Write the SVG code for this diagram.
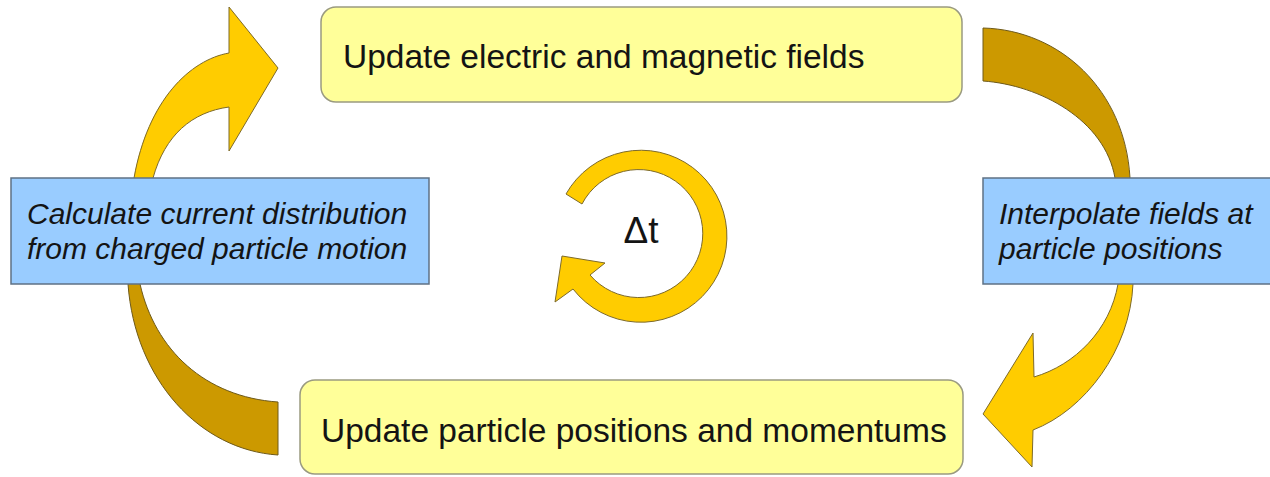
<svg xmlns="http://www.w3.org/2000/svg" width="1270" height="477" viewBox="0 0 1270 477">
<style>
.gold{fill:#ffcc00;stroke:#7d6a2a;stroke-width:1}
.dark{fill:#cc9900;stroke:#6e5a1a;stroke-width:1}
.step{fill:#ffff99;stroke:#9a9a80;stroke-width:1.5}
.op{fill:#99ccff;stroke:#5f7185;stroke-width:1.5}
.t{font-family:"Liberation Sans",Arial,sans-serif;fill:#141414}
.big{font-size:33.5px}
.it{font-size:30px;font-style:italic}
</style>
<rect width="1270" height="477" fill="#ffffff"/>
<g id="connectors">
<path id="arrow-current-to-fields" class="gold" d="M134,178 C148,100 190,60 229,53 L229,7 L278,68 L229,151 L229,107 C192,112 165,135 153,178 L150,230 L134,230 Z"/>
<path id="arrow-fields-to-interp" class="dark" d="M983,28 C1060,30 1125,90 1130,178 L1130,220 L1115,220 L1115,178 C1105,120 1040,85 983,81 Z"/>
<path id="arrow-interp-to-particles" class="gold" d="M1118,284 L1118,240 L1133,240 L1133,284 C1130,350 1085,410 1033,430 L1032,467 L983,414 L1033,333 L1034,377 C1075,365 1110,330 1118,284 Z"/>
<path id="arrow-particles-to-current" class="dark" d="M128,284 L128,240 L140,240 L140,284 C155,350 205,397 278,402 L278,455 C200,450 135,380 128,284 Z"/>
</g>
<g id="cycle">
<path id="dt-ring" class="gold" d="M566,194 A86,86 0 1 1 573,289 L555,302 L562,256 L605,263 L590,275 A64,64 0 1 0 582,204 Z"/>
<text class="t" x="641" y="243" font-size="37" text-anchor="middle">Δt</text>
</g>
<g id="node-fields">
<rect class="step" x="321" y="7" width="641" height="95" rx="15"/>
<text class="t big" x="343" y="68">Update electric and magnetic fields</text>
</g>
<g id="node-interp">
<rect class="op" x="983" y="178" width="290" height="106"/>
<text class="t it" x="999" y="224">Interpolate fields at</text>
<text class="t it" x="999" y="259">particle positions</text>
</g>
<g id="node-particles">
<rect class="step" x="300" y="380" width="663" height="94" rx="15"/>
<text class="t big" x="321" y="442">Update particle positions and momentums</text>
</g>
<g id="node-current">
<rect class="op" x="11" y="178" width="418" height="106"/>
<text class="t it" x="27" y="224">Calculate current distribution</text>
<text class="t it" x="27" y="259">from charged particle motion</text>
</g>
</svg>
